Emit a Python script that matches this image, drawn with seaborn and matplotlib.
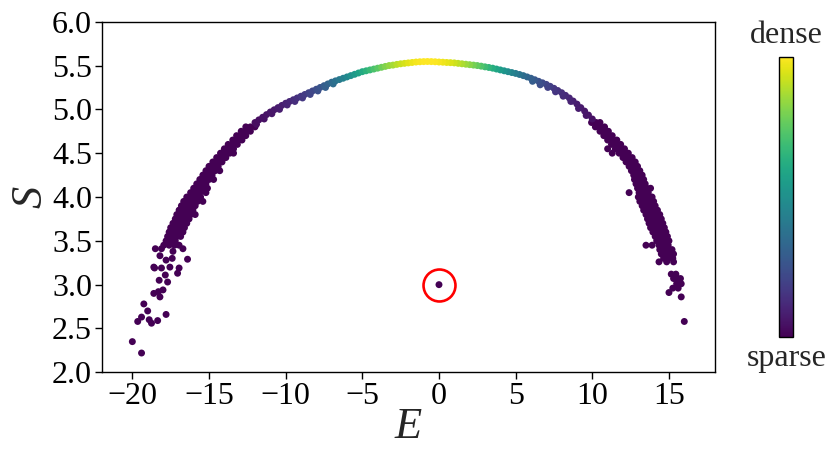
import numpy as np
import pandas as pd
import matplotlib
matplotlib.use("Agg")
import matplotlib.pyplot as plt
import seaborn as sns
from matplotlib.cm import ScalarMappable
from matplotlib.colors import Normalize

# ---------------- data ----------------
# dense top of the arch: energy, entropy, relative point density
top_E = [-12.0, -11.75, -11.5, -11.25, -11.0, -10.75, -10.5, -10.25, -10.0, -9.75,
         -9.5, -9.25, -9.0, -8.75, -8.5, -8.25, -8.0, -7.75, -7.5, -7.25,
         -7.0, -6.75, -6.5, -6.25, -6.0, -5.75, -5.5, -5.25, -5.0, -4.75,
         -4.5, -4.25, -4.0, -3.75, -3.5, -3.25, -3.0, -2.75, -2.5, -2.25,
         -2.0, -1.75, -1.5, -1.25, -1.0, -0.75, -0.5, -0.25, 0.0, 0.25,
         0.5, 0.75, 1.0, 1.25, 1.5, 1.75, 2.0, 2.25, 2.5, 2.75,
         3.0, 3.25, 3.5, 3.75, 4.0, 4.25, 4.5, 4.75, 5.0, 5.25,
         5.5, 5.75, 6.0, 6.25, 6.5, 6.75, 7.0, 7.25, 7.5, 7.75,
         8.0, 8.25, 8.5, 8.75, 9.0, 9.25, 9.5, 9.75, 10.0]
top_S = [4.85, 4.88, 4.91, 4.94, 4.97, 4.995, 5.02, 5.045, 5.07, 5.09,
         5.11, 5.13, 5.15, 5.17, 5.19, 5.21, 5.23, 5.25, 5.27, 5.29,
         5.31, 5.325, 5.34, 5.355, 5.37, 5.385, 5.40, 5.415, 5.43, 5.44,
         5.45, 5.46, 5.47, 5.48, 5.49, 5.50, 5.505, 5.513, 5.52, 5.525,
         5.53, 5.535, 5.54, 5.543, 5.545, 5.546, 5.545, 5.543, 5.54, 5.538,
         5.535, 5.533, 5.53, 5.525, 5.52, 5.515, 5.51, 5.505, 5.50, 5.493,
         5.485, 5.478, 5.47, 5.46, 5.45, 5.44, 5.43, 5.42, 5.41, 5.398,
         5.385, 5.37, 5.355, 5.338, 5.32, 5.303, 5.285, 5.263, 5.24, 5.215,
         5.19, 5.16, 5.13, 5.095, 5.06, 5.02, 4.98, 4.935, 4.89]
top_D = [0.032, 0.037, 0.043, 0.049, 0.057, 0.065, 0.075, 0.085, 0.097, 0.109,
         0.123, 0.139, 0.155, 0.174, 0.193, 0.214, 0.237, 0.261, 0.287, 0.314,
         0.342, 0.372, 0.403, 0.435, 0.468, 0.502, 0.536, 0.571, 0.607, 0.642,
         0.677, 0.711, 0.745, 0.778, 0.809, 0.839, 0.867, 0.892, 0.916, 0.937,
         0.955, 0.971, 0.983, 0.992, 0.997, 1.0, 0.999, 0.995, 0.987, 0.976,
         0.962, 0.945, 0.925, 0.902, 0.877, 0.85, 0.821, 0.79, 0.758, 0.725,
         0.691, 0.656, 0.621, 0.586, 0.55, 0.516, 0.482, 0.448, 0.416, 0.384,
         0.354, 0.325, 0.297, 0.271, 0.247, 0.223, 0.201, 0.181, 0.163, 0.145,
         0.129, 0.115, 0.102, 0.089, 0.079, 0.069, 0.06, 0.052, 0.045]

# lower edge of the band where it gets thicker
shoulder_E = [-11.9, -11.4, -10.9, -10.4, -9.9, -9.4, -8.9, -8.4, -7.9, -7.4, -6.9,
              6.1, 6.6, 7.1, 7.6, 8.1, 8.6, 9.1, 9.6]
shoulder_S = [4.83, 4.89, 4.95, 5.00, 5.05, 5.09, 5.13, 5.17, 5.21, 5.25, 5.29,
              5.32, 5.28, 5.25, 5.20, 5.15, 5.09, 5.01, 4.93]
shoulder_D = [0.034, 0.045, 0.06, 0.079, 0.104, 0.13, 0.162, 0.2, 0.246, 0.298, 0.354,
              0.287, 0.237, 0.193, 0.155, 0.124, 0.097, 0.075, 0.058]

# sparse left branch: entropy level -> energies of the points on that level
left_rows = [
    (4.80, [-12.6, -12.3, -12.0]),
    (4.75, [-12.9, -12.6, -12.3]),
    (4.70, [-13.2, -12.9, -12.6]),
    (4.65, [-13.45, -13.15, -12.85]),
    (4.60, [-13.75, -13.45, -13.15]),
    (4.55, [-14.0, -13.7, -13.4]),
    (4.50, [-14.25, -13.95, -13.65, -13.4]),
    (4.45, [-14.5, -14.2, -13.9]),
    (4.40, [-14.75, -14.45, -14.15]),
    (4.35, [-15.0, -14.7, -14.4]),
    (4.30, [-15.2, -14.9, -14.6, -14.3]),
    (4.25, [-15.4, -15.1, -14.8]),
    (4.20, [-15.6, -15.3, -15.0, -14.7]),
    (4.15, [-15.8, -15.5, -15.2]),
    (4.10, [-16.0, -15.7, -15.4, -15.1]),
    (4.05, [-16.2, -15.9, -15.6, -15.2]),
    (4.00, [-16.45, -16.15, -15.85, -15.55]),
    (3.95, [-16.65, -16.35, -16.05, -15.75, -15.4]),
    (3.90, [-16.8, -16.5, -16.2, -15.9]),
    (3.85, [-16.95, -16.65, -16.35, -16.05]),
    (3.80, [-17.1, -16.8, -16.5, -16.2, -15.9]),
    (3.75, [-17.2, -16.9, -16.6, -16.3]),
    (3.70, [-17.35, -17.05, -16.75, -16.45]),
    (3.65, [-17.5, -17.2, -16.9, -16.6]),
    (3.60, [-17.6, -17.3, -17.0, -16.7]),
    (3.55, [-17.7, -17.4, -17.1, -16.85]),
    (3.50, [-17.8, -17.5, -17.2]),
    (3.45, [-17.95, -17.6, -17.25, -16.95]),
    (3.41, [-18.5, -18.1, -16.7]),
    (3.38, [-17.35]),
    (3.33, [-18.2]),
    (3.30, [-17.4]),
    (3.28, [-17.8]),
    (3.29, [-16.4]),
    (3.20, [-18.6, -17.55]),
    (3.19, [-18.55, -18.1, -16.95]),
    (3.13, [-17.05]),
    (3.11, [-17.85]),
    (3.05, [-18.25]),
    (3.03, [-17.7]),
    (2.94, [-18.0]),
    (2.92, [-18.3]),
    (2.90, [-18.6]),
    (2.86, [-18.2]),
    (2.78, [-19.25]),
    (2.70, [-19.0]),
    (2.66, [-17.8]),
    (2.63, [-19.4]),
    (2.60, [-18.9]),
    (2.59, [-18.35]),
    (2.58, [-19.65]),
    (2.56, [-18.75]),
    (2.35, [-20.0]),
    (2.22, [-19.4]),
]

# sparse right branch
right_rows = [
    (4.85, [9.95, 10.25, 10.5]),
    (4.80, [10.2, 10.5, 10.8]),
    (4.75, [10.5, 10.8, 11.05]),
    (4.70, [10.75, 11.05, 11.3]),
    (4.65, [11.0, 11.3, 11.6]),
    (4.60, [11.25, 11.55, 11.85]),
    (4.55, [11.0, 11.5, 11.8, 12.1]),
    (4.50, [11.3, 11.75, 12.05, 12.35]),
    (4.45, [12.0, 12.3, 12.6]),
    (4.40, [12.2, 12.5, 12.8]),
    (4.35, [12.4, 12.7, 12.95]),
    (4.30, [12.55, 12.85, 13.1]),
    (4.25, [12.7, 13.0, 13.25]),
    (4.20, [12.75, 13.05, 13.35]),
    (4.15, [12.85, 13.15, 13.45]),
    (4.10, [12.95, 13.25, 13.55, 13.8]),
    (4.05, [12.4, 13.05, 13.35, 13.65]),
    (4.00, [13.0, 13.3, 13.6, 13.9]),
    (3.95, [13.1, 13.4, 13.7, 14.0]),
    (3.90, [13.25, 13.55, 13.85, 14.1]),
    (3.85, [13.35, 13.65, 13.95, 14.25]),
    (3.80, [13.5, 13.8, 14.1, 14.4]),
    (3.75, [13.6, 13.9, 14.2, 14.5]),
    (3.70, [13.7, 14.0, 14.3, 14.6]),
    (3.65, [13.8, 14.1, 14.4, 14.7]),
    (3.60, [13.95, 14.25, 14.55, 14.8]),
    (3.55, [14.1, 14.4, 14.7, 14.9]),
    (3.50, [14.2, 14.5, 14.8, 15.0]),
    (3.45, [13.5, 13.9, 14.35, 14.65, 14.95]),
    (3.40, [14.4, 14.7, 15.0, 15.2]),
    (3.35, [14.5, 14.8, 15.1, 15.3]),
    (3.30, [14.65, 14.95, 15.25]),
    (3.26, [14.35, 14.85, 15.3]),
    (3.12, [15.15, 15.45]),
    (3.07, [15.3, 15.55, 15.75]),
    (3.01, [15.5, 15.8]),
    (2.96, [15.25, 15.6]),
    (2.91, [15.0]),
    (2.86, [15.8]),
    (2.58, [16.0]),
]
branch_D = 0.0

# the highlighted state
marked_E = [0.0]
marked_S = [3.0]
marked_D = [0.0]

# ---------------- assemble ----------------
E_all, S_all, D_all = [], [], []
E_all += top_E; S_all += top_S; D_all += top_D
E_all += shoulder_E; S_all += shoulder_S; D_all += shoulder_D
for rows in (left_rows, right_rows):
    for s_level, e_list in rows:
        for e in e_list:
            E_all.append(e); S_all.append(s_level); D_all.append(branch_D)
E_all += marked_E; S_all += marked_S; D_all += marked_D

df = pd.DataFrame({"E": E_all, "S": S_all, "D": D_all}).sort_values("D")

# ---------------- plot ----------------
sns.set_theme(style="white")
plt.rcParams["font.family"] = ["Liberation Serif", "DejaVu Serif"]
plt.rcParams["axes.unicode_minus"] = True

fig = plt.figure(figsize=(8.30, 4.63), dpi=100)
ax = fig.add_axes([0.1225, 0.1959, 0.7389, 0.7572])

sns.scatterplot(data=df, x="E", y="S", hue="D", palette="viridis",
                hue_norm=(0, 1), s=25, linewidth=0, legend=False, ax=ax)

ax.plot(marked_E, marked_S, marker="o", ms=23, mfc="none", mec="red",
        mew=1.9, ls="none")

ax.set_xlim(-22, 18)
ax.set_ylim(2.0, 6.0)
ax.set_xticks([-20, -15, -10, -5, 0, 5, 10, 15])
ax.set_yticks([2.0, 2.5, 3.0, 3.5, 4.0, 4.5, 5.0, 5.5, 6.0])
ax.set_yticklabels(["2.0", "2.5", "3.0", "3.5", "4.0", "4.5", "5.0", "5.5", "6.0"])
ax.tick_params(axis="both", which="major", direction="out", length=5, width=1,
               labelsize=23, bottom=True, left=True, colors="black", pad=2)
for sp in ax.spines.values():
    sp.set_color("black")
    sp.set_linewidth(1.0)
ax.set_xlabel("E", fontsize=32, fontstyle="italic", labelpad=-3)
ax.set_ylabel("S", fontsize=32, fontstyle="italic", labelpad=1)

cax = fig.add_axes([0.9389, 0.2728, 0.0169, 0.6048])
sm = ScalarMappable(norm=Normalize(0, 1), cmap="viridis")
cb = fig.colorbar(sm, cax=cax)
cb.set_ticks([])
cb.outline.set_linewidth(1.0)
cb.outline.set_edgecolor("black")
cax.text(0.5, 1.025, "dense", transform=cax.transAxes, ha="center", va="bottom",
         fontsize=23)
cax.text(0.5, -0.025, "sparse", transform=cax.transAxes, ha="center", va="top",
         fontsize=23)

fig.savefig("out.png", dpi=100)
